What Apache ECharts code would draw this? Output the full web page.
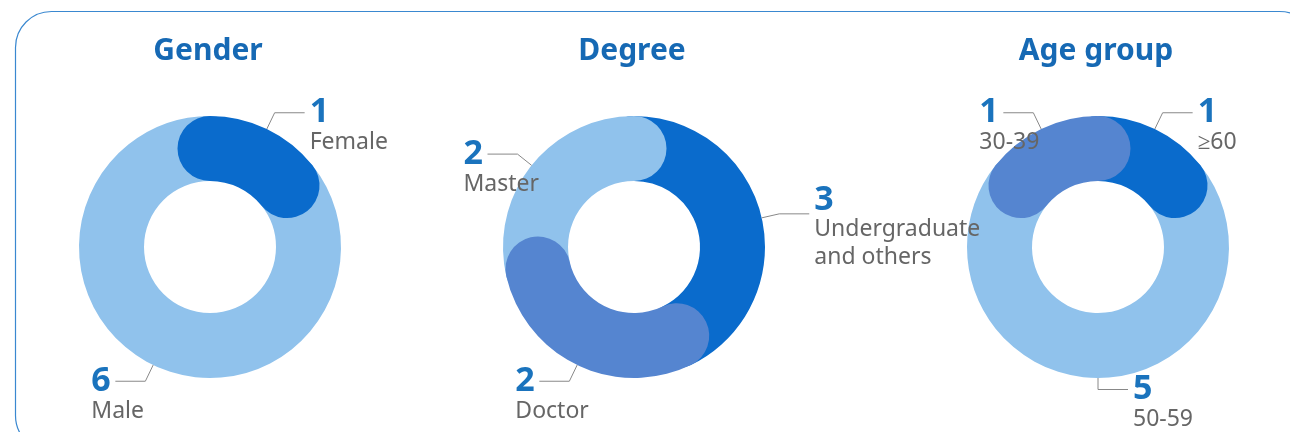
<!DOCTYPE html>
<html>
<head>
<meta charset="utf-8">
<script src="https://cdn.jsdelivr.net/npm/echarts@6/dist/echarts.min.js"></script>
<style>
html,body{margin:0;padding:0;background:#fff;}
#main{width:1290px;height:432px;}
</style>
</head>
<body>
<div id="main"></div>
<script>
// chart data
let titles=['Gender','Degree','Age group'];
let genderNames=['Female','Male'];
let genderValues=[1,6];
let degreeNames=['Undergraduate\nand others','Doctor','Master'];
let degreeValues=[3,2,2];
let ageNames=['\u2265' + '60','50-59','30-39'];
let ageValues=[1,5,1];

let dark='#0a6bcc', mid='#5585d0', light='#90c2ec';
let groups=[
    {names:genderNames, values:genderValues, colors:[dark,light], z:[3,2], cx:210},
    {names:degreeNames, values:degreeValues, colors:[dark,mid,light], z:[2,4,3], cx:634},
    {names:ageNames, values:ageValues, colors:[dark,light,mid], z:[3,2,4], cx:1098}
];
let cy=247, r0=66, r1=131;
let numW=20;

// left-side labels: put the number just before the line end, name under it
function leftAlign(p){
    if(p.align!=='right')return {};
    let end=p.labelLinePoints[2];
    return {
        x:end[0]-4-numW,
        align:'left',
        labelLinePoints:p.labelLinePoints
    };
}

let polar=[], angleAxis=[], radiusAxis=[], series=[], title=[];
groups.forEach(function(g,i){
    let total=g.values.reduce(function(a,b){return a+b;},0);
    polar.push({center:[g.cx,cy], radius:[r0,r1]});
    angleAxis.push({polarIndex:i, type:'value', min:0, max:total, startAngle:90, clockwise:true, show:false});
    radiusAxis.push({polarIndex:i, type:'category', data:[''], show:false});
    title.push({
        text:titles[i], left:g.cx-2, top:36, textAlign:'center', padding:0,
        textStyle:{fontFamily:'Noto Sans', fontSize:30, fontWeight:'bold', color:'#1669b4'}
    });
    g.values.forEach(function(v,j){
        series.push({
            type:'bar', coordinateSystem:'polar', polarIndex:i,
            stack:'s'+i, roundCap:true, barCategoryGap:'0%',
            z:g.z[j], silent:true,
            itemStyle:{color:g.colors[j]},
            data:[v]
        });
    });
    // invisible pie just for the outside labels and leader lines
    series.push({
        type:'pie', center:[g.cx,cy], radius:[r0,r1], startAngle:90,
        silent:true, z:10,
        itemStyle:{color:'rgba(0,0,0,0)'},
        label:{
            formatter:'{n|{c}}\n{t|{b}}',
            padding:[28,0,0,0],
            rich:{
                n:{fontFamily:'Noto Sans', fontSize:34, fontWeight:'bold', color:'#1a73bd', lineHeight:32, align:'left'},
                t:{fontFamily:'Noto Sans', fontSize:23, color:'#666', lineHeight:28, align:'left'}
            }
        },
        labelLine:{length:18, length2:30, lineStyle:{color:'#888', width:1}},
        labelLayout:leftAlign,
        data:g.names.map(function(n,j){return {name:n, value:g.values[j]};})
    });
});

let myChart=echarts.init(document.getElementById('main'));
myChart.setOption({
    animation:false,
    title:title,
    polar:polar,
    angleAxis:angleAxis,
    radiusAxis:radiusAxis,
    graphic:[{
        type:'rect', z:-1, silent:true,
        shape:{x:15.5, y:11.5, width:1300, height:440, r:36},
        style:{fill:'none', stroke:'#3a88d0', lineWidth:1.2}
    }],
    series:series
});
</script>
</body>
</html>
